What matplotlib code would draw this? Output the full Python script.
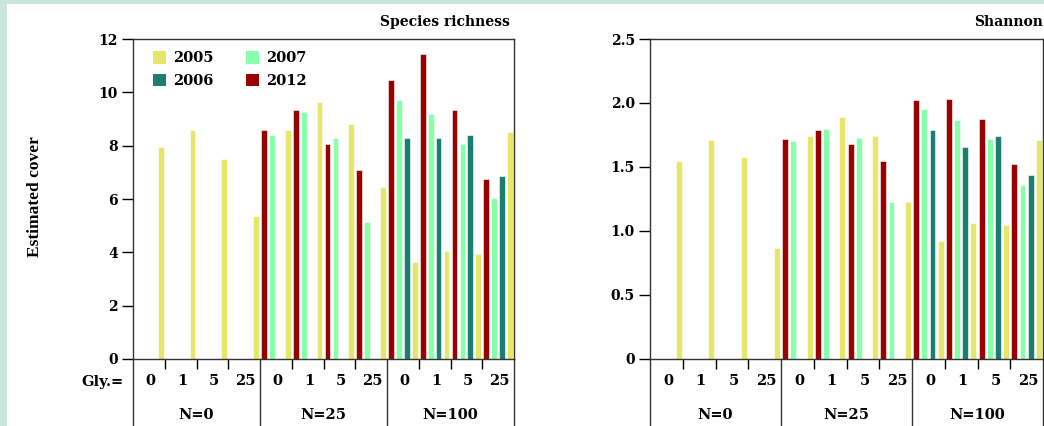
import numpy as np
import matplotlib.pyplot as plt
import matplotlib.transforms as mtransforms
from matplotlib.patches import Rectangle, Patch

plt.rcParams['font.family'] = 'DejaVu Serif'

gly_labels = ["0", "1", "5", "25"] * 3
n_labels = ["N=0", "N=25", "N=100"]
years = ["2005", "2006", "2007", "2012"]
colors = {"2005": "#e6e66a", "2006": "#1b7f70", "2007": "#88ffaa", "2012": "#990000"}

# richness per plot (nan = not sampled)
rich_2005 = [7.95, 8.6, 7.5, 5.35, 8.6, 9.65, 8.8, 6.45, 3.65, 4.05, 3.95, 8.5]
rich_2006 = [np.nan] * 8 + [8.3, 8.3, 8.4, 6.85]
rich_2007 = [np.nan] * 4 + [8.4, 9.25, 8.3, 5.15, 9.7, 9.2, 8.05, 6.05]
rich_2012 = [np.nan] * 4 + [8.6, 9.35, 8.05, 7.1, 10.45, 11.45, 9.35, 6.75]

shan_2005 = [1.55, 1.71, 1.575, 0.865, 1.74, 1.89, 1.74, 1.23, 0.925, 1.065, 1.045, 1.71]
shan_2006 = [np.nan] * 8 + [1.79, 1.66, 1.74, 1.44]
shan_2007 = [np.nan] * 4 + [1.70, 1.80, 1.73, 1.23, 1.955, 1.87, 1.72, 1.36]
shan_2012 = [np.nan] * 4 + [1.72, 1.79, 1.68, 1.545, 2.02, 2.03, 1.875, 1.525]

# position of each year inside a plot slot
offsets = {"2012": 0, "2007": 1, "2006": 2, "2005": 3}

fig = plt.figure(figsize=(10.44, 4.26), dpi=100)
fig.patch.set_facecolor("#c8e6dc")
fig.patches.append(Rectangle((7 / 1044, 0), 1, 1 - 4 / 426, transform=fig.transFigure,
                             facecolor="white", edgecolor="none", zorder=-10))


def panel(rect, data, ylim, yticks, yticklabels, title, title_x):
    ax = fig.add_axes(rect)
    ax.patch.set_alpha(0)
    x = np.arange(12)
    for yr in years:
        vals = np.array(data[yr], dtype=float)
        ax.bar(x + (offsets[yr] + 0.5) / 4, vals, width=0.18, color=colors[yr],
               edgecolor="white", linewidth=0.4, align="center")
    ax.set_xlim(0, 12)
    ax.set_ylim(*ylim)
    ax.set_yticks(yticks)
    ax.set_yticklabels(yticklabels, fontweight="bold", fontsize=10)
    ax.tick_params(axis="y", direction="out", length=8, width=1, pad=3)
    ax.set_xticks([k for k in range(1, 12) if k % 4 != 0])
    ax.set_xticklabels([])
    ax.tick_params(axis="x", direction="out", length=7, width=1)
    for s in ax.spines.values():
        s.set_linewidth(1)
        s.set_color("#333333")

    trans = mtransforms.blended_transform_factory(ax.transData, ax.transAxes)
    for k in [0, 4, 8, 12]:
        ax.plot([k, k], [0, -0.3], color="#333333", lw=1, transform=trans, clip_on=False)
    for k, lab in enumerate(gly_labels):
        ax.text(k + 0.55, -0.07, lab, transform=trans, ha="center", va="center",
                fontsize=10.5, fontweight="bold")
    for g, lab in enumerate(n_labels):
        ax.text(g * 4 + 2, -0.175, lab, transform=trans, ha="center", va="center",
                fontsize=10.5, fontweight="bold")
    fig.text(title_x, 1 - 22 / 426, title, ha="right", va="center",
             fontsize=10, fontweight="bold")
    return ax


rich = {"2005": rich_2005, "2006": rich_2006, "2007": rich_2007, "2012": rich_2012}
shan = {"2005": shan_2005, "2006": shan_2006, "2007": shan_2007, "2012": shan_2012}

ax1 = panel([133 / 1044, 67 / 426, 381 / 1044, 320 / 426], rich, (0, 12),
            [0, 2, 4, 6, 8, 10, 12], ["0", "2", "4", "6", "8", "10", "12"],
            "Species richness", 510 / 1044)
ax2 = panel([650 / 1044, 67 / 426, 393 / 1044, 320 / 426], shan, (0, 2.5),
            [0, 0.5, 1.0, 1.5, 2.0, 2.5], ["0", "0.5", "1.0", "1.5", "2.0", "2.5"],
            "Shannon", 1043 / 1044)

handles = [Patch(facecolor=colors[yr], edgecolor="none", label=yr) for yr in years]
ax1.legend(handles=handles, ncol=2, frameon=False, loc="upper left",
           bbox_to_anchor=(0.02, 1.0), handlelength=0.9, handleheight=0.9,
           columnspacing=2.2, labelspacing=0.6, handletextpad=0.5,
           borderaxespad=0.45, prop={"weight": "bold", "size": 10.5})

fig.text(35 / 1044, 1 - 197 / 426, "Estimated cover", rotation=90, ha="center",
         va="center", fontsize=12.5, fontweight="bold", family="Liberation Serif")
fig.text(102 / 1044, 1 - 382 / 426, "Gly.=", ha="center", va="center",
         fontsize=10.5, fontweight="bold")

fig.savefig("out.png", dpi=100, facecolor=fig.get_facecolor())
